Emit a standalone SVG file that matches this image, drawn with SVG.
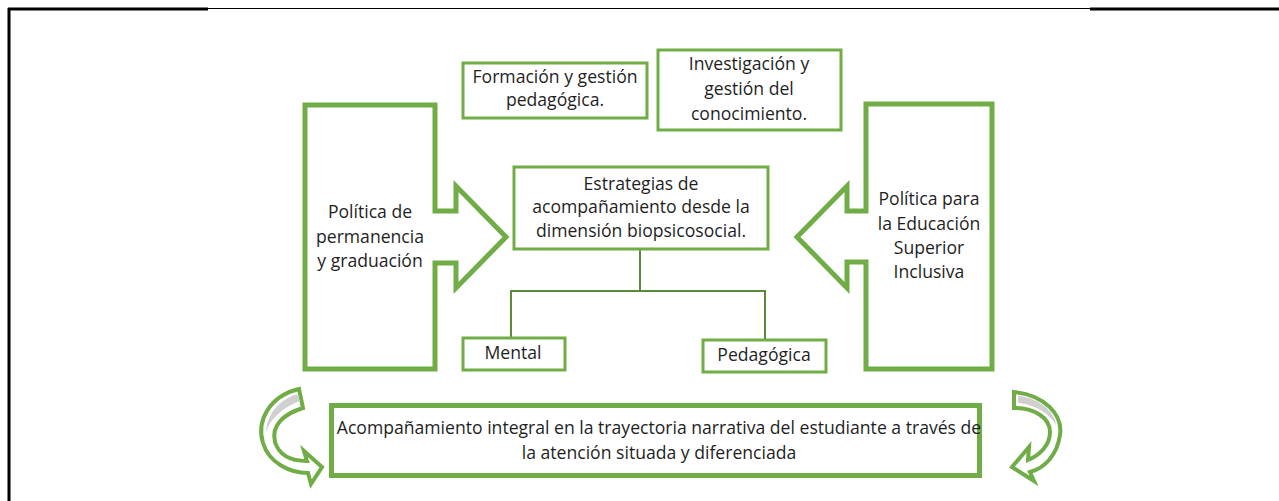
<svg xmlns="http://www.w3.org/2000/svg" width="1279" height="501" viewBox="0 0 1279 501">
<style>
.box{fill:#fff;stroke:#70AD47;stroke-width:3}
.thick{fill:#fff;stroke:#70AD47;stroke-width:5;stroke-linejoin:miter}
.t{font-family:"Open Sans","Noto Sans",sans-serif;font-size:17.6px;fill:#1f1f1f;text-anchor:middle}
.conn{fill:none;stroke:#5A8A3A;stroke-width:2}
.curve{fill:#fff;stroke:#70AD47;stroke-width:4;stroke-linejoin:miter}
.shade{fill:#D0D0D0}
.frame{stroke:#000;fill:none}
</style>
<g id="frame">
<line class="frame" x1="8" y1="9" x2="208" y2="9" stroke-width="3"/>
<line class="frame" x1="208" y1="8.5" x2="1090" y2="8.5" stroke-width="1"/>
<line class="frame" x1="1090" y1="9" x2="1279" y2="9" stroke-width="3"/>
<line class="frame" x1="9" y1="8" x2="9" y2="501" stroke-width="3"/>
</g>
<g id="connectors">
<polyline class="conn" points="640,250 640,291"/>
<polyline class="conn" points="511,337 511,291 765,291 765,339"/>
</g>
<g id="formacion">
<rect class="box" x="463" y="63" width="184" height="55"/>
<text class="t" x="555" y="83">Formación y gestión</text>
<text class="t" x="555" y="106">pedagógica.</text>
</g>
<g id="investigacion">
<rect class="box" x="658" y="50" width="183" height="80"/>
<text class="t" x="749" y="70">Investigación y</text>
<text class="t" x="749" y="95">gestión del</text>
<text class="t" x="749" y="120">conocimiento.</text>
</g>
<g id="permanencia">
<polygon class="thick" points="305,105 435,105 435,211 456,211 456,186 506,237 456,288 456,263 435,263 435,369 305,369"/>
<text class="t" x="370" y="218">Política de</text>
<text class="t" x="370" y="243">permanencia</text>
<text class="t" x="370" y="267">y graduación</text>
</g>
<g id="inclusiva">
<polygon class="thick" points="866,104 992,104 992,369 866,369 866,262 847,262 847,288 797,237 847,186 847,211 866,211"/>
<text class="t" x="929" y="205">Política para</text>
<text class="t" x="929" y="230">la Educación</text>
<text class="t" x="929" y="254">Superior</text>
<text class="t" x="929" y="278">Inclusiva</text>
</g>
<g id="estrategias">
<rect class="box" x="514" y="167" width="254" height="82"/>
<text class="t" x="641" y="190">Estrategias de</text>
<text class="t" x="641" y="213">acompañamiento desde la</text>
<text class="t" x="641" y="237">dimensión biopsicosocial.</text>
</g>
<g id="mental">
<rect class="box" x="463" y="338" width="102" height="32"/>
<text class="t" x="513" y="359">Mental</text>
</g>
<g id="pedagogica">
<rect class="box" x="703" y="340" width="123" height="32"/>
<text class="t" x="764" y="361">Pedagógica</text>
</g>
<g id="acompanamiento">
<rect class="thick" x="331.5" y="405.5" width="648" height="70"/>
<text class="t" x="659" y="434">Acompañamiento integral en la trayectoria narrativa del estudiante a través de</text>
<text class="t" x="659" y="459">la atención situada y diferenciada</text>
</g>
<g id="curva-izquierda">
<path class="curve" d="M299,389 C270,396 256,420 263,443 C269,463 290,473 308,473 L311,484 L322,467 L304,451 L307,461 C291,461 279,455 275,442 C271,426 283,414 303,408 Z"/>
<path class="shade" d="M297,394 C279,400 267,414 266,432 C270,419 283,407 300,401 Z"/>
</g>
<g id="curva-derecha">
<path class="curve" d="M1014,392 C1045,395 1063,415 1060,435 C1057,455 1045,468 1030,472 L1034,481 L1012,467 L1029,447 L1028,460 C1040,455 1050,445 1050,432 C1050,418 1035,408 1014,408 Z"/>
<path class="shade" d="M1018,396 C1040,398 1055,412 1056,425 C1050,415 1038,405 1018,403 Z"/>
</g>
</svg>
